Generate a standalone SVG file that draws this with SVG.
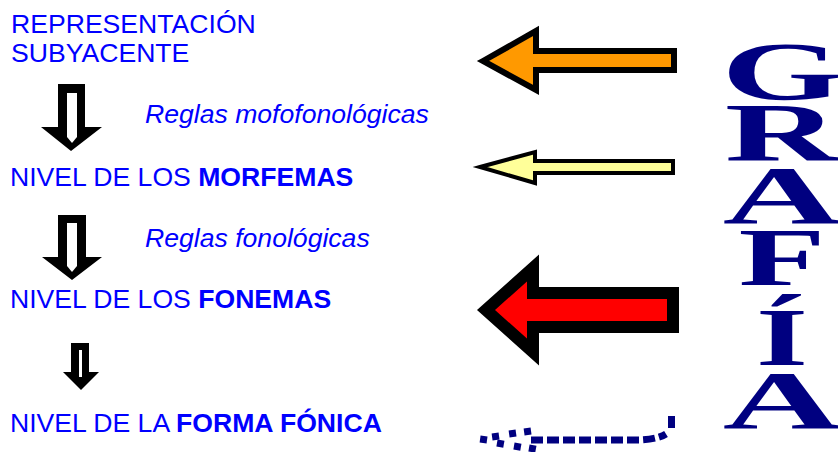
<svg xmlns="http://www.w3.org/2000/svg" width="838" height="452" viewBox="0 0 838 452">
<style>
.t{font-family:"Liberation Sans",Arial,sans-serif;font-size:26.6px;fill:#0000ff}
.b{font-weight:bold}
.i{font-style:italic}
.g{font-family:"Liberation Serif","Times New Roman",serif;font-weight:bold;font-size:82px;fill:#000080;text-anchor:middle}
.blk{fill:#000}
.wht{fill:#fff}
.big{stroke:#000;stroke-linejoin:miter;stroke-miterlimit:10}
.dot{fill:#000080}
</style>
<rect width="838" height="452" fill="#fff"/>

<g id="text-rep">
<text class="t" x="11" y="33">REPRESENTACIÓN</text>
<text class="t" x="11" y="62">SUBYACENTE</text>
</g>
<g id="text-reglas1"><text class="t i" x="145" y="123">Reglas mofofonológicas</text></g>
<g id="text-morfemas"><text class="t" x="10" y="186">NIVEL DE LOS <tspan class="b">MORFEMAS</tspan></text></g>
<g id="text-reglas2"><text class="t i" x="145" y="247">Reglas fonológicas</text></g>
<g id="text-fonemas"><text class="t" x="10" y="308">NIVEL DE LOS <tspan class="b">FONEMAS</tspan></text></g>
<g id="text-forma"><text class="t" x="10" y="432">NIVEL DE LA <tspan class="b">FORMA FÓNICA</tspan></text></g>

<g id="connectors">
<g id="down1">
<path class="blk" d="M58,84 H85 V127 H102 L71,151 L41,127 H58 Z"/>
<path class="wht" d="M67,93 H77 V137 L72,143 L67,137 Z"/>
</g>
<g id="down2">
<path class="blk" d="M58,215 H86 V257 H102 L72,280 L42,257 H58 Z"/>
<path class="wht" d="M67,223 H77 V266 L72,272 L67,266 Z"/>
</g>
<g id="down3">
<path class="blk" d="M71,343 H89 V372 H99 L81,390 L63,372 H71 Z"/>
<path class="wht" d="M79,350 H82 V377 H79 Z"/>
</g>
<g id="arrow-orange">
<path class="big" fill="#ff9900" stroke-width="6" d="M483,61 L536,31 L536,51 L674,51 L674,70 L536,70 L536,90 Z"/>
</g>
<g id="arrow-yellow">
<path class="big" fill="#ffff99" stroke-width="4" d="M480,167 L535,152 L535,161 L673,161 L673,173 L535,173 L535,183 Z"/>
</g>
<g id="arrow-red">
<path class="big" fill="#ff0000" stroke-width="12" d="M486,310 L533,268 L533,293 L673,293 L673,327 L533,327 L533,352 Z"/>
</g>
<g id="dotted">
<rect class="dot" x="480" y="436" width="7" height="7" transform="rotate(8 483 440)"/>
<rect class="dot" x="492" y="433" width="7" height="7" transform="rotate(-8 495 436)"/>
<rect class="dot" x="497" y="440" width="7" height="7" transform="rotate(10 500 443)"/>
<rect class="dot" x="509" y="430" width="7" height="7" transform="rotate(-8 512 433)"/>
<rect class="dot" x="514" y="443" width="7" height="7" transform="rotate(10 517 446)"/>
<rect class="dot" x="524" y="428" width="7" height="7" transform="rotate(-8 527 431)"/>
<rect class="dot" x="529" y="445" width="7" height="7" transform="rotate(10 532 448)"/>
<path d="M531,440 L640,440 Q658,439 666,434" fill="none" stroke="#000080" stroke-width="7" stroke-dasharray="12 4"/>
<rect class="dot" x="668" y="416" width="7" height="12"/>
</g>
</g>

<g id="grafia">
<text class="g" transform="translate(782,99) scale(1.9,1)">G</text>
<text class="g" transform="translate(782,160) scale(1.93,1)">R</text>
<text class="g" transform="translate(782,223) scale(2,1)">A</text>
<text class="g" transform="translate(782,285) scale(1.74,1)">F</text>
<text class="g" transform="translate(782,365) scale(1.63,1)">Í</text>
<text class="g" transform="translate(782,428) scale(2,1)">A</text>
</g>
</svg>
